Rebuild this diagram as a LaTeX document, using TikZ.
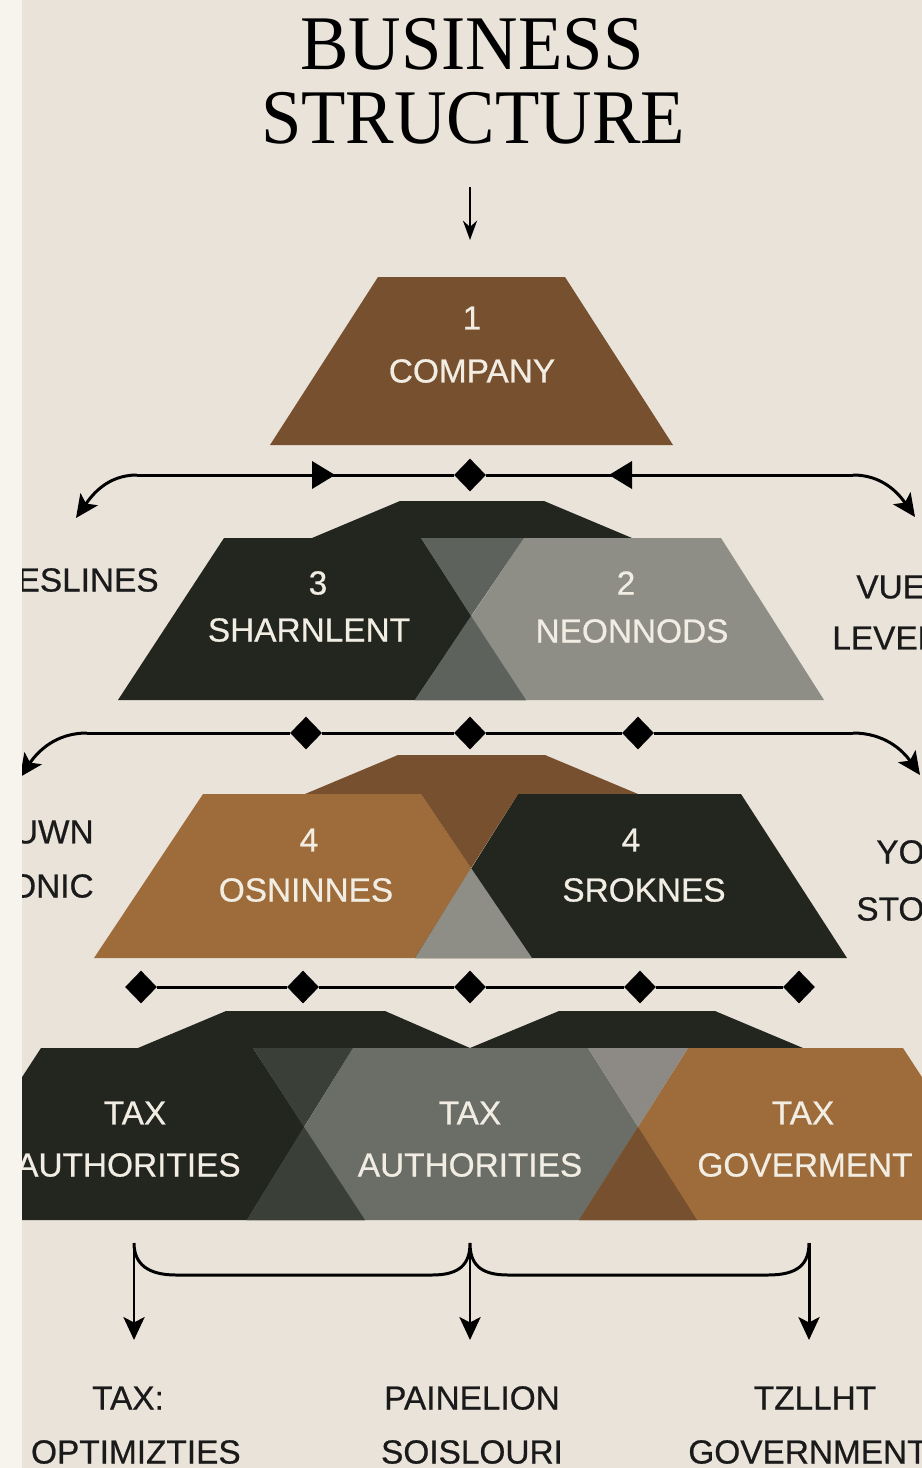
\documentclass[tikz,border=0pt]{standalone}
\usepackage{fontspec}
\setmainfont{Liberation Sans}
\newfontfamily\titlefont{Liberation Serif}
\newfontfamily\labelfont[FakeBold=0.6]{Liberation Sans}
\usepackage{tikz}
\usetikzlibrary{arrows.meta}
\usetikzlibrary{shapes.geometric}
\definecolor{paper}{HTML}{EAE3DA}
\definecolor{strip}{HTML}{F7F4EE}
\definecolor{bizbrown}{HTML}{775030}
\definecolor{lightbrown}{HTML}{9E6C3B}
\definecolor{bizdark}{HTML}{22261F}
\definecolor{bizgray}{HTML}{8E8D86}
\definecolor{midgray}{HTML}{5E625C}
\definecolor{slate}{HTML}{6A6E67}
\definecolor{slatedark}{HTML}{3A3F38}
\definecolor{ashgray}{HTML}{8D8A85}
\definecolor{ink}{HTML}{1A1A1A}
\definecolor{cream}{HTML}{F2EDE3}

\tikzset{
  headline/.style={text=black, inner sep=0pt, font=\titlefont\fontsize{44}{48}\selectfont},
  inlbl/.style={text=cream, inner sep=0pt, font=\labelfont\fontsize{19}{22}\selectfont},
  outlbl/.style={text=ink, inner sep=0pt, font=\labelfont\fontsize{19}{22}\selectfont},
  gem/.style={diamond, fill=black, inner sep=0pt, minimum width=0.64cm, minimum height=0.66cm},
  link/.style={draw=black, line width=1.7pt},
  arrowed/.style={-{Stealth[length=13pt,width=12pt,inset=3pt]}}
}

\begin{document}
\begin{tikzpicture}[x=0.02cm, y=0.02cm]
  \useasboundingbox (0,0) rectangle (922,-1468);
  \clip (0,0) rectangle (922,-1468);
  \fill[paper] (0,0) rectangle (922,-1468);

  % title
  \node[headline] (head1) at (472,-44) {\scalebox{0.94}[1]{BUSINESS}};
  \node[headline] (head2) at (473,-118) {\scalebox{0.94}[1]{STRUCTURE}};
  \coordinate (down0) at (470,-187);
  \coordinate (down1) at (470,-240);
  \draw[black, line width=1.4pt, -{Stealth[length=11pt,width=8pt]}] (down0) -- (down1);

  % level 1
  \fill[bizbrown] (378,-277) -- (565,-277) -- (673,-445) -- (270,-445) -- cycle;
  \node[inlbl] (num1) at (472,-318) {1};
  \node[inlbl] (company) at (472,-371) {COMPANY};

  % row 1
  \coordinate (l1) at (137,-475);
  \coordinate (r1) at (853,-475);
  \coordinate (al1) at (76,-518);
  \coordinate (ar1) at (915,-517);
  \coordinate (tri1) at (324,-475);
  \coordinate (tri2) at (620,-475);
  \node[gem] (g1) at (470,-475) {};
  \draw[link] (l1) -- (g1) -- (r1);
  \draw[link,arrowed] (l1) to[out=180,in=55] (al1);
  \draw[link,arrowed] (r1) to[out=0,in=125] (ar1);
  \fill (tri1) ++(-12,14) -- ++(23,-14) -- ++(-23,-14) -- cycle;
  \fill (tri2) ++(12,14) -- ++(-23,-14) -- ++(23,-14) -- cycle;

  % level 2
  \fill[bizdark] (312,-538) -- (400,-501) -- (544,-501) -- (632,-538) -- cycle;
  \fill[bizdark] (224,-538) -- (421,-538) -- (526,-700) -- (118,-700) -- cycle;
  \fill[bizgray] (524,-538) -- (721,-538) -- (824,-700) -- (415,-700) -- cycle;
  \fill[midgray] (421,-538) -- (524,-538) -- (471,-616) -- cycle;
  \fill[midgray] (415,-700) -- (526,-700) -- (471,-616) -- cycle;
  \node[inlbl] (num3) at (318,-583) {3};
  \node[inlbl] (sharn) at (309,-630) {SHARNLENT};
  \node[inlbl] (num2) at (626,-583) {2};
  \node[inlbl] (neon) at (632,-631) {NEONNODS};
  \node[outlbl, anchor=east] (eslines) at (159,-580) {ESLINES};
  \node[outlbl, anchor=west] (vue) at (856,-587) {VUE};
  \node[outlbl, anchor=west] (level) at (832,-638) {LEVEL};

  % row 2
  \coordinate (l2) at (87,-733);
  \coordinate (r2) at (853,-733);
  \coordinate (al2) at (20,-777);
  \coordinate (ar2) at (920,-775);
  \node[gem] (g21) at (306,-733) {};
  \node[gem] (g22) at (470,-733) {};
  \node[gem] (g23) at (638,-733) {};
  \draw[link] (l2) -- (g21) -- (g22) -- (g23) -- (r2);
  \draw[link,arrowed] (l2) to[out=180,in=55] (al2);
  \draw[link,arrowed] (r2) to[out=0,in=125] (ar2);

  % level 3
  \fill[bizbrown] (305,-794) -- (398,-755) -- (545,-755) -- (638,-794) -- cycle;
  \fill[lightbrown] (203,-794) -- (421,-794) -- (532,-958) -- (94,-958) -- cycle;
  \fill[bizdark] (518,-794) -- (741,-794) -- (847,-958) -- (415,-958) -- cycle;
  \fill[bizbrown] (421,-794) -- (518,-794) -- (471,-868) -- cycle;
  \fill[bizgray] (415,-958) -- (532,-958) -- (471,-868) -- cycle;
  \node[inlbl] (num4a) at (309,-840) {4};
  \node[inlbl] (osnin) at (306,-890) {OSNINNES};
  \node[inlbl] (num4b) at (631,-840) {4};
  \node[inlbl] (srok) at (644,-890) {SROKNES};
  \node[outlbl, anchor=east] (uwn) at (94,-832) {UWN};
  \node[outlbl, anchor=east] (onic) at (94,-886) {ONIC};
  \node[outlbl, anchor=west] (yo) at (876,-852) {YO};
  \node[outlbl, anchor=west] (sto) at (856,-909) {STO};

  % row 3
  \node[gem] (g31) at (141,-987) {};
  \node[gem] (g32) at (303,-987) {};
  \node[gem] (g33) at (470,-987) {};
  \node[gem] (g34) at (640,-987) {};
  \node[gem] (g35) at (799,-987) {};
  \draw[link] (g31) -- (g32) -- (g33) -- (g34) -- (g35);

  % level 4
  \fill[bizdark] (138,-1048) -- (226,-1011) -- (385,-1011) -- (470,-1048) -- cycle;
  \fill[bizdark] (470,-1048) -- (559,-1011) -- (715,-1011) -- (803,-1048) -- cycle;
  \fill[bizdark] (41,-1048) -- (253,-1048) -- (365,-1220) -- (-71,-1220) -- cycle;
  \fill[slate] (353,-1048) -- (588,-1048) -- (697,-1220) -- (247,-1220) -- cycle;
  \fill[lightbrown] (688,-1048) -- (903,-1048) -- (1015,-1220) -- (579,-1220) -- cycle;
  \fill[slatedark] (253,-1048) -- (353,-1048) -- (304,-1127) -- cycle;
  \fill[slatedark] (247,-1220) -- (365,-1220) -- (304,-1127) -- cycle;
  \fill[ashgray] (588,-1048) -- (688,-1048) -- (638,-1127) -- cycle;
  \fill[bizbrown] (579,-1220) -- (697,-1220) -- (638,-1127) -- cycle;
  \node[inlbl] (tax1) at (135,-1113) {TAX};
  \node[inlbl, anchor=east] (auth1) at (241,-1165) {AUTHORITIES};
  \node[inlbl] (tax2) at (470,-1113) {TAX};
  \node[inlbl] (auth2) at (470,-1165) {AUTHORITIES};
  \node[inlbl] (tax3) at (803,-1113) {TAX};
  \node[inlbl] (gov1) at (805,-1165) {GOVERMENT};

  % bottom brace
  \coordinate (b1) at (134,-1243);
  \coordinate (b2) at (470,-1243);
  \coordinate (b3) at (809,-1243);
  \coordinate (e1) at (134,-1340);
  \coordinate (e2) at (470,-1340);
  \coordinate (e3) at (809,-1340);
  \draw[link] (b1) .. controls (134,-1264) and (148,-1275) .. (176,-1275) -- (432,-1275)
     .. controls (460,-1275) and (470,-1264) .. (b2)
     .. controls (470,-1264) and (480,-1275) .. (508,-1275) -- (768,-1275)
     .. controls (798,-1275) and (809,-1264) .. (b3);
  \draw[link,arrowed] (b1) -- (e1);
  \draw[link,arrowed] (b2) -- (e2);
  \draw[link,arrowed] (b3) -- (e3);
  \node[outlbl] (res1) at (128,-1398) {TAX:};
  \node[outlbl, anchor=east] (res2) at (241,-1452) {OPTIMIZTIES};
  \node[outlbl] (res3) at (472,-1398) {PAINELION};
  \node[outlbl] (res4) at (472,-1452) {SOISLOURI};
  \node[outlbl] (res5) at (815,-1398) {TZLLHT};
  \node[outlbl, anchor=west] (res6) at (688,-1452) {GOVERNMENT};

  % left margin
  \fill[strip] (0,0) rectangle (22,-1468);
\end{tikzpicture}
\end{document}
